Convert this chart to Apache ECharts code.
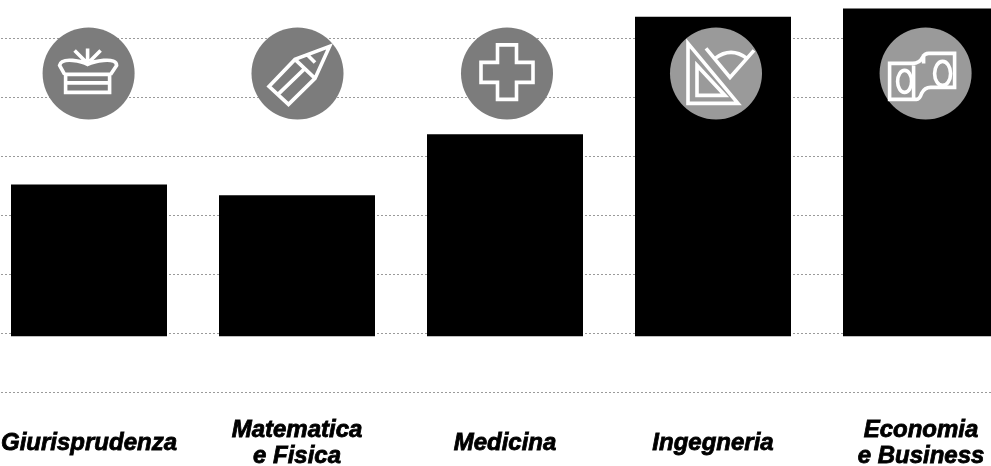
<!DOCTYPE html>
<html>
<head>
<meta charset="utf-8">
<style>html,body{margin:0;padding:0;background:#fff}#c{width:991px;height:466px}</style>
<script src="https://cdn.jsdelivr.net/npm/echarts@6/dist/echarts.min.js"></script>
</head>
<body>
<div id="c"></div>
<script>
const categories = ['Giurisprudenza', 'Matematica\ne Fisica', 'Medicina', 'Ingegneria', 'Economia\ne Business'];
const barBase = [9.5, 9.5, 9.5, 9.5, 9.5];
const barValues = [25.7, 23.9, 34.2, 54.1, 55.5];
const iconLevel = [54, 54, 54, 54, 54];
const iconShift = [-0.4, 0.5, 2, 3, 4.6];
const iconFill = ['#7c7c7c', '#7c7c7c', '#7c7c7c', '#9a9a9a', '#9a9a9a'];
const iconPaths = [
  // crown
  ['M-23,1 L21,1 L21,19 L-23,19 Z M-23,9.5 L21,9.5 M-24,1 L-29,-8 Q-28,-14 -16,-13 Q-6,-12 -1,-9 Q5,-12 15,-13 Q28,-14 28,-8 L22,1 M-1,-11 L-1,-25 M-3,-12 L-14,-23 M1,-12 L12,-23'],
  // pencil
  ['M32,-27 L-2.5,-14 L-28.5,13 L-9,31 L17.5,5 Z M-2.5,-14 L17.5,5 M-19.5,21 L7.5,-5 M10.5,-18 L17.5,-11'],
  // cross
  ['M-9.5,-28.5 L9.5,-28.5 L9.5,-11 L26,-11 L26,9 L9.5,9 L9.5,26 L-9.5,26 L-9.5,9 L-26,9 L-26,-11 L-9.5,-11 Z'],
  // set square and protractor
  ['M-28,-30 L-28,30 L22,30 Z M-19,-8 L-19,22 L9,22 Z M-10,-25 L14,4 L38,-23 M-1,-15 Q15,-27 31,-15'],
  // banknotes
  ['M-36,-10 L-13,-10 Q-6,-10 -3,-16 Q-1,-20 3,-20 L29,-20 L29,14 L5,14 Q-1,14 -4,20 Q-6,26 -9,26 L-36,26 Z M-2,-19 L-2,-10 M-12,-8 L-12,25',
   'M-28,8 A7,11 0 1 0 -14,8 A7,11 0 1 0 -28,8 Z M9,0 A8,12 0 1 0 25,0 A8,12 0 1 0 9,0 Z']
];

const chart = echarts.init(document.getElementById('c'), null, {renderer: 'canvas'});
chart.setOption({
  animation: false,
  backgroundColor: '#fff',
  grid: {left: -15, width: 1040, top: 2.5, height: 390, outerBoundsMode: 'none', containLabel: false},
  xAxis: {
    type: 'category',
    data: categories,
    axisLine: {show: false},
    axisTick: {show: false},
    axisLabel: {
      interval: 0,
      margin: 51,
      verticalAlign: 'middle',
      color: '#000',
      fontFamily: '"Liberation Sans"',
      fontStyle: 'italic',
      fontWeight: 'bold',
      fontSize: 24,
      lineHeight: 26,
      textBorderColor: '#000',
      textBorderWidth: 0.8
    }
  },
  yAxis: {
    type: 'value',
    min: 0,
    max: 66,
    interval: 10,
    axisLine: {show: false},
    axisTick: {show: false},
    axisLabel: {show: false},
    splitLine: {show: true, showMaxLine: false, lineStyle: {color: '#9a9a9a', width: 1, type: [2, 2]}}
  },
  series: [
    {type: 'bar', stack: 'b', data: barBase, barWidth: '75%', itemStyle: {color: 'transparent'}, silent: true},
    {type: 'bar', stack: 'b', data: barValues, barWidth: '75%', itemStyle: {color: '#000'}},
    {
      type: 'custom',
      clip: false,
      z: 5,
      encode: {x: 0, y: 1},
      data: iconLevel.map((v, i) => [i, v]),
      renderItem(params, api) {
        const i = api.value(0);
        const p = api.coord([i, api.value(1)]);
        const children = [{type: 'circle', shape: {cx: 0, cy: 0, r: 46}, style: {fill: iconFill[i]}}];
        iconPaths[i].forEach(d => children.push({
          type: 'path',
          shape: {pathData: d},
          style: {fill: 'none', stroke: '#fff', lineWidth: 3.6, lineJoin: 'miter'}
        }));
        return {type: 'group', x: p[0] + iconShift[i], y: p[1], children};
      }
    }
  ]
});
</script>
</body>
</html>
